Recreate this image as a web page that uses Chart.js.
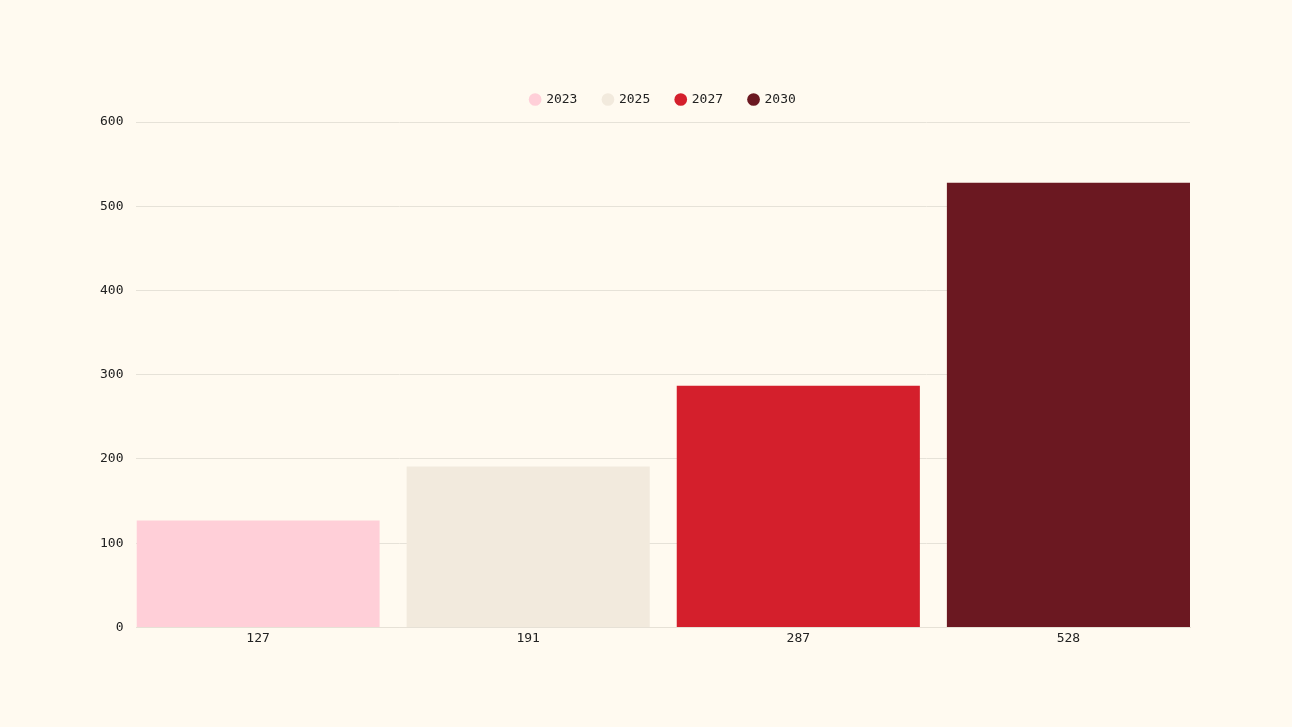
<!DOCTYPE html>
<html lang="en">
<head>
<meta charset="utf-8"/>
<title>Bar chart</title>
<script src="https://cdn.jsdelivr.net/npm/chart.js"></script>
<style>
    html, body {
        margin: 0;
        padding: 0;
        background-color: #fffaf0;
    }
    .chart-wrap {
        position: relative;
        width: 1292px;
        height: 727px;
    }
</style>
</head>
<body>
<div class="chart-wrap">
<canvas id="barChart"></canvas>
</div>
<script>
    // data
    const categories = ['127', '191', '287', '528'];
    const seriesNames = ['2023', '2025', '2027', '2030'];
    const values = [127, 191, 287, 528];
    const colors = ['#ffcfd8', '#f2eadd', '#d41f2c', '#6b1821'];
    const yTicks = [0, 100, 200, 300, 400, 500, 600];

    const fontFamily = "'DejaVu Sans Mono', 'Liberation Mono', monospace";

    // one dataset per year; bars sit at positions 0..3 on a linear x axis
    // so the outer bars touch the plot edges (band layout, inner gap only)
    const datasets = seriesNames.map(function(name, i) {
        return {
            label: name,
            data: [{ x: i, y: values[i] }],
            backgroundColor: colors[i],
            borderWidth: 0,
            grouped: false,
            categoryPercentage: 1.0,
            barPercentage: 0.9
        };
    });

    // a bit more room under the legend, and center it over the plot area
    const legendTweak = {
        id: 'legendTweak',
        beforeInit(chart) {
            const fit = chart.legend.fit;
            chart.legend.fit = function() {
                fit.bind(chart.legend)();
                this.height += 6;
            };
        },
        afterLayout(chart) {
            const lg = chart.legend;
            const area = chart.chartArea;
            const shift = (area.left + area.right) / 2 - (lg.left + lg.right) / 2;
            lg.left += shift;
            lg.right += shift;
        }
    };

    const ctx = document.getElementById('barChart').getContext('2d');
    new Chart(ctx, {
        type: 'bar',
        data: {
            datasets: datasets
        },
        options: {
            responsive: true,
            maintainAspectRatio: false,
            animation: false,
            layout: {
                padding: { top: 67, left: 87, right: 102, bottom: 78 }
            },
            scales: {
                x: {
                    type: 'linear',
                    offset: false,
                    min: -0.45,
                    max: 3.45,
                    afterBuildTicks: function(axis) {
                        axis.ticks = categories.map(function(c, i) { return { value: i }; });
                    },
                    grid: { display: false, drawTicks: false, offset: false },
                    border: { color: '#e6e1d6' },
                    ticks: {
                        color: '#222222',
                        font: { family: fontFamily, size: 13 },
                        padding: 3,
                        callback: function(value) { return categories[value]; }
                    }
                },
                y: {
                    min: 0,
                    max: 600,
                    afterBuildTicks: function(axis) {
                        axis.ticks = yTicks.map(function(v) { return { value: v }; });
                    },
                    grid: {
                        color: '#e6e2d8',
                        drawTicks: false
                    },
                    border: { display: false },
                    ticks: {
                        color: '#222222',
                        font: { family: fontFamily, size: 13 },
                        padding: 13
                    }
                }
            },
            plugins: {
                legend: {
                    position: 'top',
                    labels: {
                        usePointStyle: true,
                        pointStyle: 'circle',
                        boxWidth: 9,
                        boxHeight: 9,
                        padding: 26,
                        color: '#222222',
                        font: { family: fontFamily, size: 13 }
                    }
                },
                tooltip: { enabled: false }
            }
        },
        plugins: [legendTweak]
    });
</script>
</body>
</html>
